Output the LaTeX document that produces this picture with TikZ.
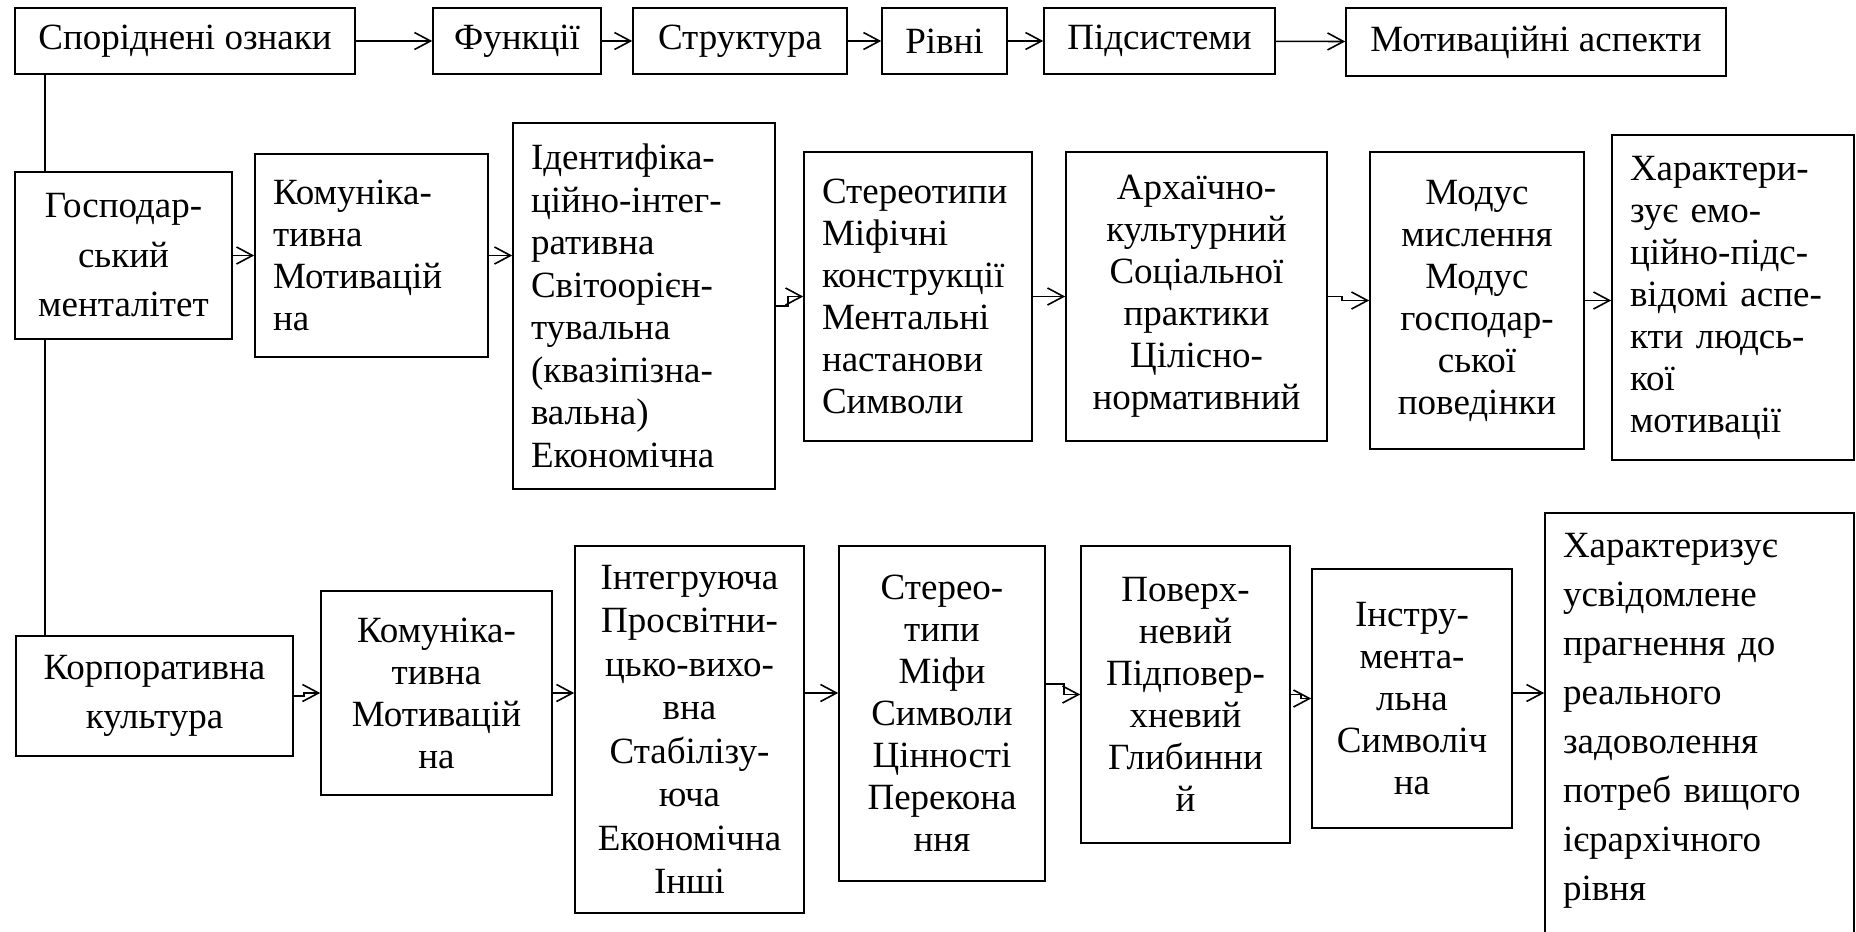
\documentclass[tikz,border=0pt]{standalone}
\usepackage{fontspec}
\setmainfont{Liberation Serif}
\usetikzlibrary{arrows.meta}

\begin{document}
\begin{tikzpicture}[x=1pt, y=-1pt,
  blk/.style={draw, line width=1.6pt, inner sep=0pt, font=\fontsize{37}{42}\selectfont},
  lft/.style={blk, align=left, inner xsep=18pt},
  ctr/.style={blk, align=center, inner xsep=18pt},
  spaced/.style={font=\fontsize{37}{49.5}\selectfont},
  ln/.style={line width=1.6pt},
  arr/.style={line width=1.6pt, -{Straight Barb[length=16pt,width=17pt]}}]
\useasboundingbox (0,0) rectangle (1856,932);
\clip (0,0) rectangle (1856,932);

% top row
\node[blk, minimum width=340pt, minimum height=66pt] (sporid) at (185,41) {Споріднені ознаки};
\node[blk, minimum width=168pt, minimum height=66pt] (funk) at (517,41) {Функції};
\node[blk, minimum width=214pt, minimum height=66pt] (strukt) at (740,41) {Структура};
\node[blk, minimum width=125pt, minimum height=66pt] (rivni) at (944.5,41) {Рівні};
\node[blk, minimum width=231pt, minimum height=66pt] (pidsyst) at (1159.5,41) {Підсистеми};
\node[blk, minimum width=380pt, minimum height=68pt] (motyv) at (1536,42) {Мотиваційні аспекти};

% middle row
\node[ctr, spaced, minimum width=217pt, minimum height=167pt, text width=181pt] (gosp) at (123.5,255.5) {Господар-\\ський\\менталітет};
\node[lft, minimum width=233pt, minimum height=203pt, text width=197pt] (komun_1) at (371.5,255.5) {Комуніка-\\тивна\\Мотивацій\\на};
\node[lft, font=\fontsize{37}{42.5}\selectfont, minimum width=262pt, minimum height=366pt, text width=226pt] (ident) at (644,306) {Ідентифіка-\\ційно-інтег-\\ративна\\Світоорієн-\\тувальна\\(квазіпізна-\\вальна)\\Економічна};
\node[lft, minimum width=228pt, minimum height=289pt, text width=192pt] (stereo_1) at (918,296.5) {Стереотипи\\Міфічні\\конструкції\\Ментальні\\настанови\\Символи};
\node[ctr, minimum width=261pt, minimum height=289pt, text width=225pt] (arkh) at (1196.5,296.5) {Архаїчно-\\культурний\\Соціальної\\практики\\Цілісно-\\нормативний};
\node[ctr, minimum width=214pt, minimum height=297pt, text width=178pt] (modus) at (1477,300.5) {Модус\\мислення\\Модус\\господар-\\ської\\поведінки};
\node[lft, minimum width=242pt, minimum height=325pt, text width=206pt] (kharakt_1) at (1733,297.5) {Характери-\\зує~емо-\\\mbox{ційно-підс-}\\\mbox{відомі~аспе-}\\кти~людсь-\\кої\\мотивації};

% bottom row
\node[ctr, spaced, minimum width=277pt, minimum height=120pt, text width=241pt] (korp) at (154.5,696) {Корпоративна\\культура};
\node[ctr, minimum width=231pt, minimum height=204pt, text width=195pt] (komun_2) at (436.5,693) {Комуніка-\\тивна\\Мотивацій\\на};
\node[ctr, font=\fontsize{37}{43.5}\selectfont, minimum width=229pt, minimum height=367pt, text width=193pt] (intehr) at (689.5,729.5) {Інтегруюча\\Просвітни-\\\mbox{цько-вихо-}\\вна\\Стабілізу-\\юча\\Економічна\\Інші};
\node[ctr, minimum width=206pt, minimum height=335pt, text width=170pt] (stereo_2) at (942,713.5) {Стерео-\\типи\\Міфи\\Символи\\Цінності\\Перекона\\ння};
\node[ctr, minimum width=209pt, minimum height=297pt, text width=173pt] (poverkh) at (1185.5,694.5) {Поверх-\\невий\\Підповер-\\хневий\\Глибинни\\й};
\node[ctr, minimum width=200pt, minimum height=259pt, text width=164pt] (instr) at (1412,698.5) {Інстру-\\мента-\\льна\\Символіч\\на};
\node[lft, font=\fontsize{37}{49}\selectfont, anchor=north, minimum width=309pt, text width=273pt, inner ysep=20pt, text depth=400pt] (kharakt_2) at (1699.5,512) {Характеризує\\усвідомлене\\прагнення~до\\реального\\задоволення\\потреб~вищого\\ієрархічного\\рівня};

% trunk line
\coordinate (trunk) at (45,0);
\draw[ln] (sporid.south -| trunk) -- (gosp.north -| trunk);
\draw[ln] (gosp.south -| trunk) -- (korp.north -| trunk);

% top row arrows
\draw[arr] (sporid) -- (funk);
\draw[arr] (funk) -- (strukt);
\draw[arr] (strukt) -- (rivni);
\draw[arr] (rivni) -- (pidsyst);
\draw[arr] (pidsyst) -- (motyv);

% middle row arrows
\draw[arr] (gosp) -- (komun_1);
\draw[arr] (komun_1.east) -- (komun_1.east -| ident.west);
\draw[arr] (ident.east) -- ++(12,0) |- (stereo_1.west);
\draw[arr] (stereo_1) -- (arkh);
\draw[arr] (arkh.east) -- ++(14,0) |- (modus.west);
\draw[arr] (modus.east) -- (modus.east -| kharakt_1.west);

% bottom row arrows
\coordinate (r3) at (0,693);
\draw[arr] (korp.east) -- ++(10,0) |- (komun_2.west);
\draw[arr] (komun_2.east) -- (komun_2.east -| intehr.west);
\draw[arr] (intehr.east |- r3) -- (stereo_2.west |- r3);
\draw[arr] (stereo_2.east |- 0,684) -- ++(18,0) |- (poverkh.west);
\draw[arr] (poverkh.east) -- ++(10,0) |- (instr.west);
\draw[arr] (instr.east |- r3) -- (kharakt_2.west |- r3);
\end{tikzpicture}
\end{document}
